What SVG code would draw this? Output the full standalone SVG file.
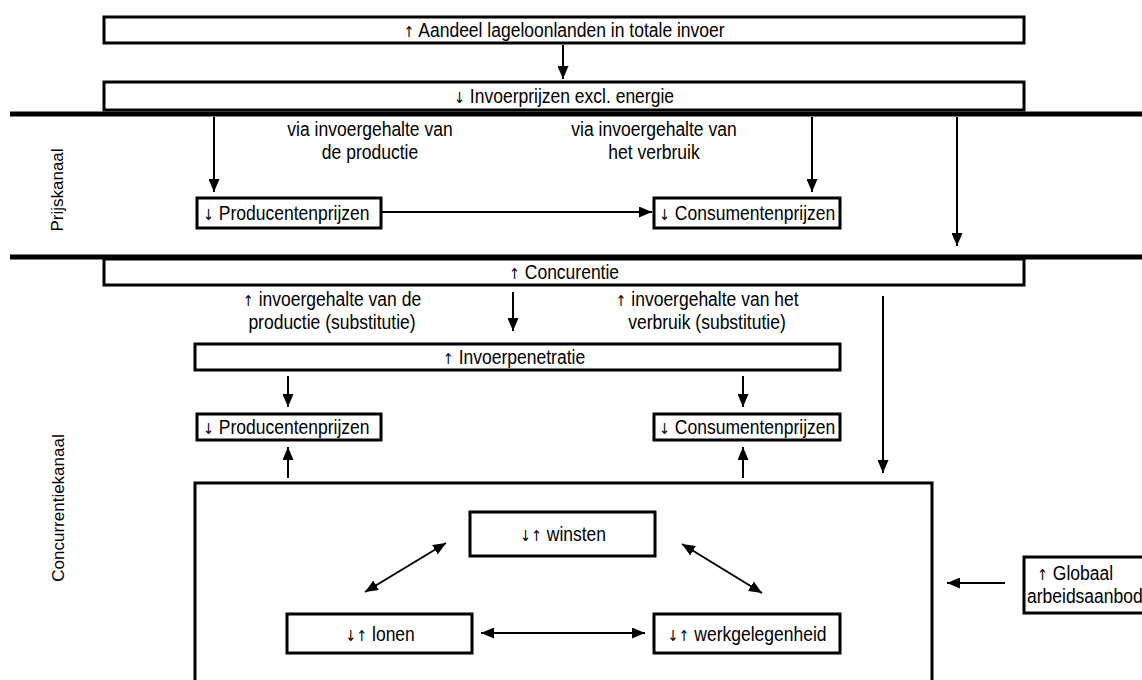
<svg xmlns="http://www.w3.org/2000/svg" width="1142" height="680" viewBox="0 0 1142 680">
<style>
.box{fill:#fff;stroke:#000;stroke-width:3}
.t{font-family:"Liberation Sans",Arial,sans-serif;font-size:20px;fill:#000}
.v{font-family:"Liberation Sans",Arial,sans-serif;font-size:17px;fill:#000;text-anchor:middle}
.m{text-anchor:middle}
.ar{font-family:"DejaVu Sans",sans-serif;font-size:15px}
.sep{stroke:#000;stroke-width:5}
.c{stroke:#000;stroke-width:2;fill:none}
.a{marker-end:url(#ah)}
.d{marker-start:url(#ah);marker-end:url(#ah)}
</style>
<defs>
<marker id="ah" viewBox="0 0 13 11" refX="13" refY="5.5" markerWidth="13" markerHeight="11" markerUnits="userSpaceOnUse" orient="auto-start-reverse">
<path d="M0,0 L13,5.5 L0,11 z" fill="#000"/>
</marker>
</defs>
<rect width="1142" height="680" fill="#fff"/>
<g id="separators">
<line class="sep" x1="10" y1="114" x2="1142" y2="114"/>
<line class="sep" x1="10" y1="257" x2="1142" y2="257"/>
</g>
<g id="lane-prijs"><text class="v" transform="translate(63,190) rotate(-90)">Prijskanaal</text></g>
<g id="lane-conc"><text class="v" transform="translate(64,508) rotate(-90)">Concurrentiekanaal</text></g>
<g id="n-aandeel"><rect class="box" x="104" y="17" width="920" height="26"/><text class="t m" transform="translate(564,37) scale(.875,1)"><tspan class="ar">↑</tspan> Aandeel lageloonlanden in totale invoer</text></g>
<g id="n-invoerprijzen"><rect class="box" x="104" y="82" width="920" height="28"/><text class="t m" transform="translate(564,103) scale(.875,1)"><tspan class="ar">↓</tspan> Invoerprijzen excl. energie</text></g>
<g id="n-prod1"><rect class="box" x="197" y="198" width="184" height="30"/><text class="t" transform="translate(203,220) scale(.875,1)"><tspan class="ar">↓</tspan> Producentenprijzen</text></g>
<g id="n-cons1"><rect class="box" x="654" y="198" width="186" height="30"/><text class="t" transform="translate(659,220) scale(.875,1)"><tspan class="ar">↓</tspan> Consumentenprijzen</text></g>
<g id="n-concurrentie"><rect class="box" x="104" y="259" width="920" height="26"/><text class="t m" transform="translate(564,279) scale(.875,1)"><tspan class="ar">↑</tspan> Concurentie</text></g>
<g id="n-invoerpen"><rect class="box" x="195" y="344" width="645" height="26"/><text class="t m" transform="translate(514,364) scale(.875,1)"><tspan class="ar">↑</tspan> Invoerpenetratie</text></g>
<g id="n-prod2"><rect class="box" x="197" y="414" width="184" height="26"/><text class="t" transform="translate(203,434) scale(.875,1)"><tspan class="ar">↓</tspan> Producentenprijzen</text></g>
<g id="n-cons2"><rect class="box" x="654" y="414" width="186" height="26"/><text class="t" transform="translate(659,434) scale(.875,1)"><tspan class="ar">↓</tspan> Consumentenprijzen</text></g>
<g id="n-markt"><rect class="box" x="195" y="483" width="737" height="220"/></g>
<g id="n-winsten"><rect class="box" x="470" y="512" width="185" height="44"/><text class="t m" transform="translate(563,541) scale(.875,1)"><tspan class="ar">↓↑</tspan> winsten</text></g>
<g id="n-lonen"><rect class="box" x="287" y="614" width="185" height="39"/><text class="t m" transform="translate(380,641) scale(.875,1)"><tspan class="ar">↓↑</tspan> lonen</text></g>
<g id="n-werk"><rect class="box" x="654" y="614" width="186" height="39"/><text class="t m" transform="translate(747,641) scale(.875,1)"><tspan class="ar">↓↑</tspan> werkgelegenheid</text></g>
<g id="n-globaal"><rect class="box" x="1024" y="557" width="130" height="56"/><text class="t m" transform="translate(1075,580) scale(.875,1)"><tspan class="ar">↑</tspan> Globaal</text><text class="t" transform="translate(1027,603) scale(.875,1)">arbeidsaanbod</text></g>
<g id="labels">
<text class="t m" transform="translate(370,136) scale(.875,1)">via invoergehalte van</text>
<text class="t m" transform="translate(370,159) scale(.875,1)">de productie</text>
<text class="t m" transform="translate(654,136) scale(.875,1)">via invoergehalte van</text>
<text class="t m" transform="translate(654,159) scale(.875,1)">het verbruik</text>
<text class="t m" transform="translate(332,306) scale(.875,1)"><tspan class="ar">↑</tspan> invoergehalte van de</text>
<text class="t m" transform="translate(332,329) scale(.875,1)">productie (substitutie)</text>
<text class="t m" transform="translate(707,306) scale(.875,1)"><tspan class="ar">↑</tspan> invoergehalte van het</text>
<text class="t m" transform="translate(707,329) scale(.875,1)">verbruik (substitutie)</text>
</g>
<g id="connectors">
<line class="c a" x1="563" y1="45" x2="563" y2="79"/>
<line class="c a" x1="214" y1="117" x2="214" y2="192"/>
<line class="c a" x1="812" y1="117" x2="812" y2="192"/>
<line class="c a" x1="957" y1="117" x2="957" y2="246"/>
<line class="c a" x1="381" y1="212" x2="652" y2="212"/>
<line class="c a" x1="513" y1="292" x2="513" y2="331"/>
<line class="c a" x1="883" y1="296" x2="883" y2="473"/>
<line class="c a" x1="288" y1="376" x2="288" y2="407"/>
<line class="c a" x1="743" y1="376" x2="743" y2="407"/>
<line class="c a" x1="288" y1="478" x2="288" y2="447"/>
<line class="c a" x1="743" y1="478" x2="743" y2="447"/>
<line class="c d" x1="365" y1="592" x2="446" y2="543"/>
<line class="c d" x1="682" y1="544" x2="762" y2="593"/>
<line class="c d" x1="481" y1="633" x2="645" y2="633"/>
<line class="c a" x1="1005" y1="583" x2="947" y2="583"/>
</g>
</svg>
